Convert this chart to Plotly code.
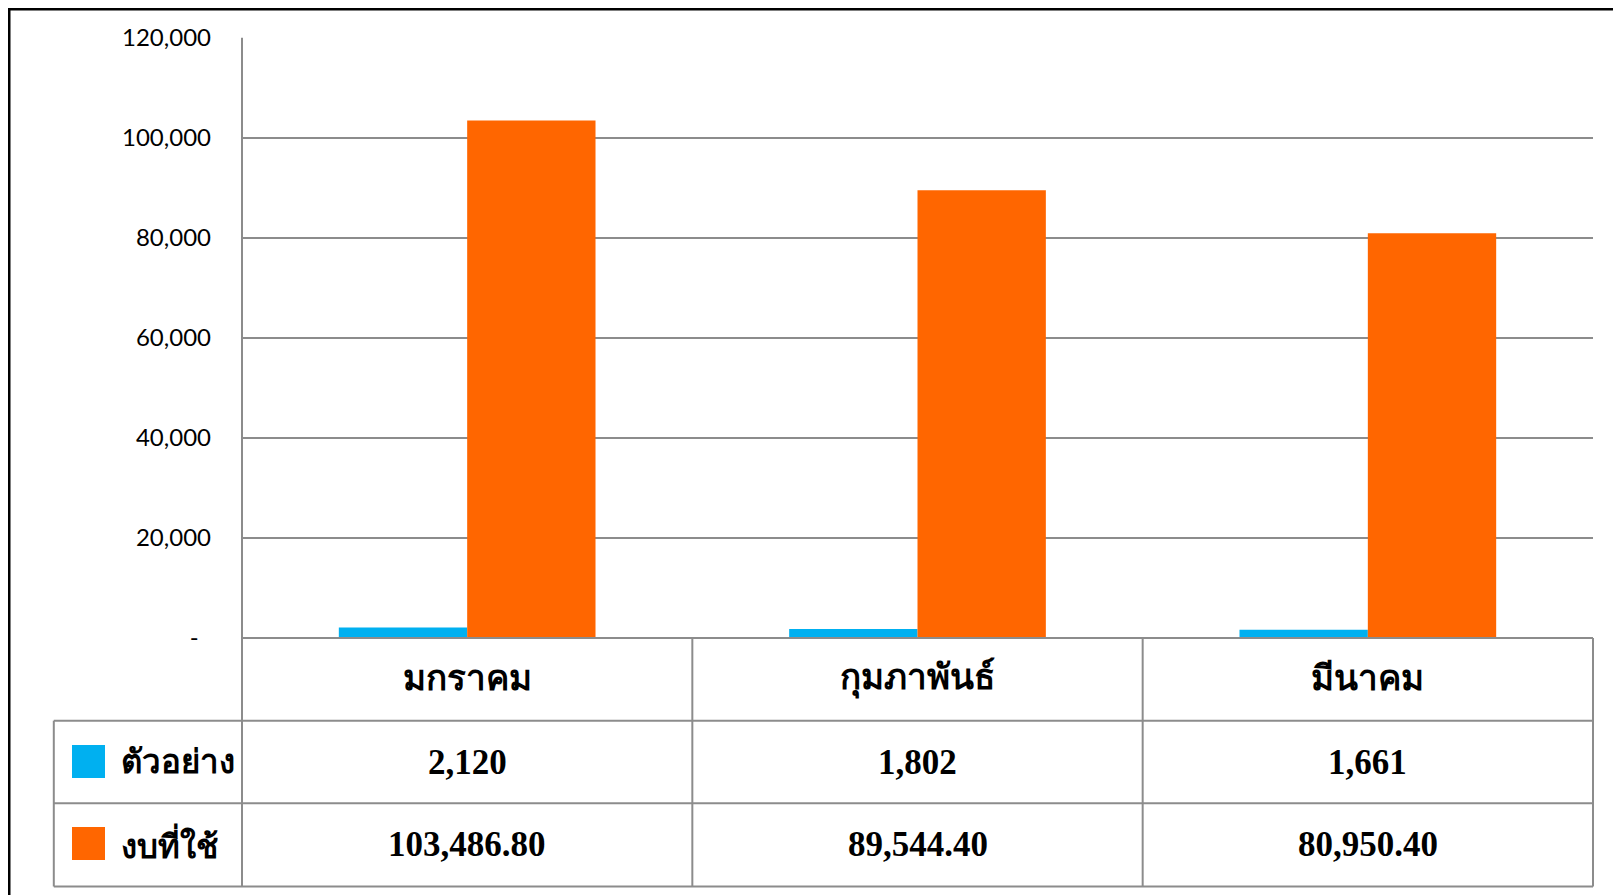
import plotly.graph_objects as go

# data
months = ['มกราคม', 'กุมภาพันธ์', 'มีนาคม']
series_names = ['ตัวอย่าง', 'งบที่ใช้']
sample = [2120, 1802, 1661]
budget = [103486.80, 89544.40, 80950.40]
sample_text = ['2,120', '1,802', '1,661']
budget_text = ['103,486.80', '89,544.40', '80,950.40']
y_ticks = [0, 20000, 40000, 60000, 80000, 100000, 120000]
y_tick_text = ['-' + '\u00a0' * 2, '20,000', '40,000', '60,000', '80,000', '100,000', '120,000']

W, H = 1621, 895
BLUE = '#00B0F0'
ORANGE = '#FF6600'
GRID = '#8C8C8C'
OFF = 8  # page body margin


def px(x):
    return (x - OFF) / W


def py(y):
    return 1 - (y - OFF) / H


# screen geometry of the plot and data table
left, right = 242, 1593
top, zero = 37.7, 638
row1, row2, bottom = 720.7, 803.3, 886.5
legend_left = 53.8
col_w = (right - left) / 3

fig = go.Figure()
fig.add_bar(x=months, y=sample, name=series_names[0], marker=dict(color=BLUE, line_width=0))
fig.add_bar(x=months, y=budget, name=series_names[1], marker=dict(color=ORANGE, line_width=0))

fig.update_layout(
    width=W, height=H,
    margin=dict(l=0, r=0, t=0, b=0, autoexpand=False),
    paper_bgcolor='white', plot_bgcolor='white',
    barmode='group', bargap=0.43, bargroupgap=0,
    showlegend=False,
    font=dict(family='Lato, Open Sans, sans-serif', color='#000000'),
)
fig.update_xaxes(domain=[px(left), px(right)], showticklabels=False, showgrid=False,
                 zeroline=False, showline=False, automargin=False)
fig.update_yaxes(domain=[py(zero), py(top)], range=[0, 120060], tickvals=y_ticks,
                 ticktext=y_tick_text, tickfont=dict(size=24, family='Lato, sans-serif'),
                 showgrid=True, gridcolor=GRID, gridwidth=2, zeroline=False,
                 showline=False, ticks='', ticklabelstandoff=30, automargin=False)

shapes = []


def line(x0, y0, x1, y1, color=GRID, width=2):
    shapes.append(dict(type='line', xref='paper', yref='paper',
                       x0=px(x0), y0=py(y0), x1=px(x1), y1=py(y1),
                       line=dict(color=color, width=width)))


# table grid
line(left, zero, right, zero)
for yy in (row1, row2, bottom):
    line(legend_left, yy, right, yy)
line(legend_left, row1, legend_left, bottom)
line(left, top, left, bottom)
for i in range(1, 4):
    line(left + i * col_w, zero, left + i * col_w, bottom)

# outer chart border
shapes.append(dict(type='rect', xref='paper', yref='paper', x0=px(9), y0=py(9),
                   x1=px(1640), y1=py(920), line=dict(color='black', width=3)))

# legend keys
for y0, y1, c in ((745, 778, BLUE), (827, 860, ORANGE)):
    shapes.append(dict(type='rect', xref='paper', yref='paper', x0=px(72), x1=px(105),
                       y0=py(y1), y1=py(y0), fillcolor=c, line_width=0))

annotations = []
table_font = dict(family='Liberation Serif, Times New Roman, serif', size=35, color='black')
legend_font = dict(table_font, size=33)


def label(x, y, text, anchor='center', font=table_font):
    annotations.append(dict(xref='paper', yref='paper', x=px(x), y=py(y), text='<b>' + text + '</b>',
                            showarrow=False, xanchor=anchor, yanchor='middle', font=font))


for i, m in enumerate(months):
    cx = left + (i + 0.5) * col_w
    label(cx, 678, m)
    label(cx, 762, sample_text[i])
    label(cx, 844, budget_text[i])

label(119, 762, series_names[0], anchor='left', font=legend_font)
label(119, 844, series_names[1], anchor='left', font=legend_font)

fig.update_layout(shapes=shapes, annotations=annotations)

fig.write_html('out.html')
